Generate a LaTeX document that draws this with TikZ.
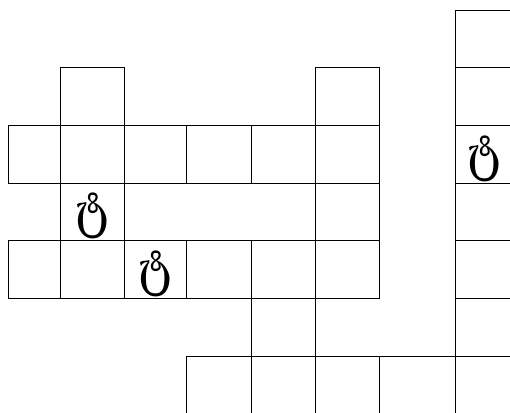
\documentclass[tikz,border=0pt]{standalone}
\usepackage{fontspec}
\newfontfamily\geofont[FakeStretch=0.88]{DejaVu Serif}
\begin{document}
\begin{tikzpicture}[x=1bp,y=-1bp,
  cell/.style={draw=black,line width=1bp},
  glyph/.style={inner sep=0pt,anchor=south,font=\geofont\fontsize{51}{51}\selectfont}]
\useasboundingbox (0,0) rectangle (510,412);
\clip (0,0) rectangle (510,412);
% right column
\foreach \ya/\yb in {10/67,67/125,125/183,183/240,240/298,298/356,356/420}
  \draw[cell] (455,\ya) rectangle (520,\yb);
% row 1
\draw[cell] (60,67) rectangle (124,125);
\draw[cell] (315,67) rectangle (379,125);
% rows 2 and 4
\foreach \ya/\yb in {125/183,240/298}
  \foreach \xa/\xb in {8/60,60/124,124/186,186/251,251/315,315/379}
    \draw[cell] (\xa,\ya) rectangle (\xb,\yb);
% row 3
\foreach \xa/\xb in {60/124,124/315,315/379}
  \draw[cell] (\xa,183) rectangle (\xb,240);
% row 5
\draw[cell] (251,298) rectangle (315,356);
% row 6
\foreach \xa/\xb in {186/251,251/315,315/379,379/455}
  \draw[cell] (\xa,356) rectangle (\xb,420);
% glyphs
\node[glyph] (g1) at (92,239.5) {ტ};
\node[glyph] (g2) at (155,297.5) {ტ};
\node[glyph] (g3) at (484,182.5) {ტ};
\end{tikzpicture}
\end{document}
